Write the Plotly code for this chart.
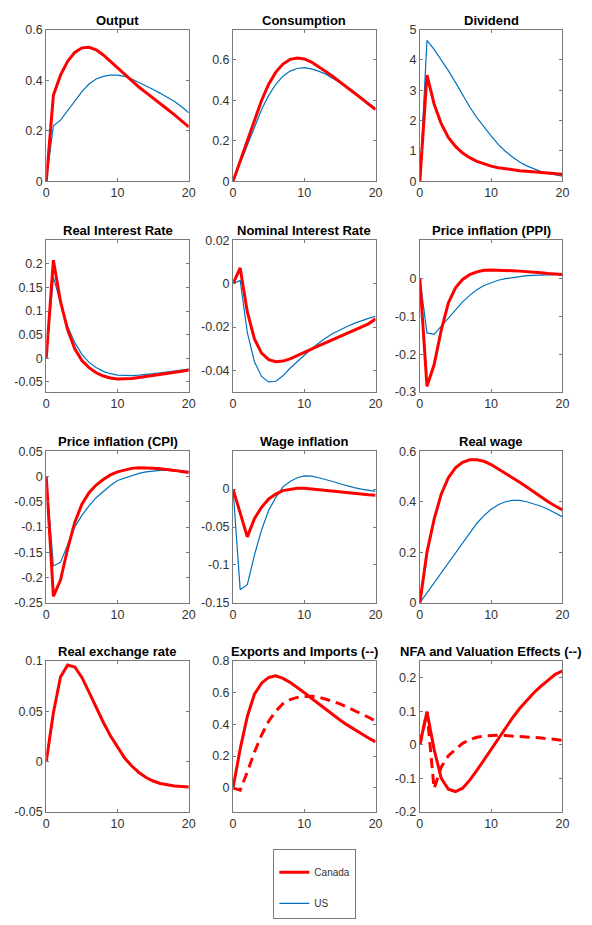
import plotly.graph_objects as go

# Impulse responses over 20 quarters
quarters = list(range(21))

output_ca = [0, 0.34, 0.42, 0.475, 0.51, 0.528, 0.53, 0.52, 0.5, 0.475, 0.45, 0.425,
             0.397, 0.373, 0.351, 0.33, 0.307, 0.285, 0.263, 0.24, 0.215]
output_us = [0, 0.22, 0.242, 0.28, 0.32, 0.355, 0.385, 0.405, 0.415, 0.42, 0.42, 0.415,
             0.405, 0.392, 0.378, 0.363, 0.348, 0.332, 0.316, 0.295, 0.271]

cons_ca = [0, 0.1, 0.205, 0.305, 0.4, 0.48, 0.54, 0.58, 0.603, 0.61, 0.605, 0.59,
           0.568, 0.543, 0.518, 0.492, 0.466, 0.437, 0.41, 0.382, 0.355]
cons_us = [0, 0.09, 0.18, 0.27, 0.355, 0.425, 0.48, 0.52, 0.545, 0.558, 0.562, 0.556,
           0.545, 0.53, 0.51, 0.49, 0.468, 0.443, 0.415, 0.388, 0.36]

div_ca = [0, 3.5, 2.55, 1.9, 1.45, 1.15, 0.93, 0.78, 0.66, 0.57, 0.5, 0.45,
          0.41, 0.38, 0.35, 0.33, 0.31, 0.29, 0.27, 0.25, 0.23]
div_us = [0, 4.65, 4.35, 4.02, 3.65, 3.26, 2.85, 2.45, 2.1, 1.78, 1.5, 1.22,
          0.99, 0.8, 0.64, 0.51, 0.41, 0.32, 0.26, 0.21, 0.17]

rir_ca = [0, 0.208, 0.12, 0.06, 0.02, -0.005, -0.02, -0.031, -0.038, -0.042, -0.044, -0.044,
          -0.043, -0.041, -0.039, -0.037, -0.035, -0.032, -0.03, -0.028, -0.025]
rir_us = [0, 0.172, 0.118, 0.068, 0.033, 0.008, -0.009, -0.02, -0.028, -0.033, -0.036, -0.037,
          -0.037, -0.036, -0.035, -0.033, -0.031, -0.029, -0.027, -0.025, -0.023]

nir_ca = [0, 0.0073, -0.013, -0.0255, -0.032, -0.035, -0.036, -0.0357, -0.0347, -0.0333, -0.0318,
          -0.0302, -0.0287, -0.0272, -0.0257, -0.0243, -0.0228, -0.0214, -0.02, -0.0185, -0.0162]
nir_us = [0, 0.0015, -0.0225, -0.036, -0.0428, -0.0453, -0.045, -0.0425, -0.039, -0.036, -0.033,
          -0.03, -0.0275, -0.025, -0.023, -0.0213, -0.0197, -0.0183, -0.017, -0.016, -0.015]

ppi_ca = [0, -0.285, -0.228, -0.137, -0.065, -0.025, -0.003, 0.01, 0.017, 0.021, 0.022, 0.022,
          0.021, 0.02, 0.019, 0.018, 0.016, 0.015, 0.013, 0.012, 0.01]
ppi_us = [0, -0.144, -0.148, -0.127, -0.105, -0.083, -0.062, -0.045, -0.03, -0.019, -0.011,
          -0.005, -0.001, 0.002, 0.005, 0.007, 0.008, 0.009, 0.01, 0.01, 0.01]

cpi_ca = [0, -0.237, -0.205, -0.143, -0.091, -0.055, -0.032, -0.017, -0.006, 0.003, 0.009, 0.013,
          0.016, 0.017, 0.017, 0.016, 0.015, 0.014, 0.012, 0.01, 0.008]
cpi_us = [0, -0.177, -0.17, -0.133, -0.1, -0.077, -0.058, -0.042, -0.03, -0.018, -0.008, -0.003,
          0.002, 0.006, 0.009, 0.011, 0.012, 0.012, 0.012, 0.011, 0.01]

wage_ca = [0, -0.031, -0.063, -0.039, -0.024, -0.013, -0.0065, -0.002, 0.0, 0.001, 0.001, 0.0,
           -0.001, -0.002, -0.003, -0.004, -0.005, -0.006, -0.007, -0.0075, -0.008]
wage_us = [0, -0.1326, -0.126, -0.087, -0.054, -0.028, -0.011, 0.003, 0.01, 0.015, 0.0174, 0.017,
           0.015, 0.013, 0.01, 0.007, 0.004, 0.002, 0.0, -0.002, -0.003]

rwage_ca = [0, 0.2, 0.33, 0.43, 0.495, 0.534, 0.556, 0.566, 0.566, 0.56, 0.547, 0.53,
            0.513, 0.495, 0.477, 0.458, 0.438, 0.42, 0.4, 0.383, 0.368]
rwage_us = [0, 0.04, 0.08, 0.12, 0.16, 0.2, 0.24, 0.28, 0.315, 0.345, 0.37, 0.388,
            0.4, 0.405, 0.405, 0.4, 0.392, 0.382, 0.37, 0.356, 0.34]

rer_ca = [0, 0.0485, 0.084, 0.096, 0.094, 0.0836, 0.069, 0.0534, 0.039, 0.0256, 0.014, 0.0033,
          -0.0046, -0.011, -0.016, -0.0195, -0.022, -0.0235, -0.0245, -0.025, -0.0255]

exports_ca = [0, 0.245, 0.45, 0.59, 0.66, 0.696, 0.706, 0.69, 0.665, 0.635, 0.6, 0.565,
              0.53, 0.495, 0.46, 0.428, 0.397, 0.368, 0.34, 0.314, 0.29]
imports_ca = [0, -0.015, 0.1, 0.225, 0.333, 0.42, 0.484, 0.53, 0.556, 0.57, 0.575, 0.578,
              0.572, 0.56, 0.545, 0.53, 0.51, 0.49, 0.47, 0.445, 0.42]

nfa_ca = [0, 0.098, -0.014, -0.1, -0.133, -0.14, -0.13, -0.106, -0.077, -0.046, -0.014, 0.019,
          0.05, 0.08, 0.108, 0.133, 0.155, 0.175, 0.193, 0.21, 0.22]
valuation_ca = [0, 0.098, -0.131, -0.067, -0.033, -0.014, 0.004, 0.015, 0.022, 0.026, 0.028, 0.028,
                0.027, 0.026, 0.025, 0.024, 0.022, 0.02, 0.018, 0.016, 0.013]

titles = ["Output", "Consumption", "Dividend",
          "Real Interest Rate", "Nominal Interest Rate", "Price inflation (PPI)",
          "Price inflation (CPI)", "Wage inflation", "Real wage",
          "Real exchange rate", "Exports and Imports (--)", "NFA and Valuation Effects (--)"]

y_ranges = [[0, 0.6], [0, 0.75], [0, 5],
            [-0.072, 0.25], [-0.05, 0.02], [-0.3, 0.1],
            [-0.25, 0.05], [-0.15, 0.05], [0, 0.6],
            [-0.05, 0.1], [-0.15, 0.8], [-0.2, 0.25]]

y_ticks = [[0, 0.2, 0.4, 0.6], [0, 0.2, 0.4, 0.6], [0, 1, 2, 3, 4, 5],
           [-0.05, 0, 0.05, 0.1, 0.15, 0.2], [-0.04, -0.02, 0, 0.02], [-0.3, -0.2, -0.1, 0],
           [-0.25, -0.2, -0.15, -0.1, -0.05, 0, 0.05], [-0.15, -0.1, -0.05, 0], [0, 0.2, 0.4, 0.6],
           [-0.05, 0, 0.05, 0.1], [0, 0.2, 0.4, 0.6, 0.8], [-0.2, -0.1, 0, 0.1, 0.2]]

x_ticks = [0, 10, 20]

# (solid red, blue, dashed red) per panel
panels = [(output_ca, output_us, None), (cons_ca, cons_us, None), (div_ca, div_us, None),
          (rir_ca, rir_us, None), (nir_ca, nir_us, None), (ppi_ca, ppi_us, None),
          (cpi_ca, cpi_us, None), (wage_ca, wage_us, None), (rwage_ca, rwage_us, None),
          (rer_ca, None, None), (exports_ca, None, imports_ca), (nfa_ca, None, valuation_ca)]

W, H = 592, 925
col_px = [(44, 189), (234, 379), (424, 569)]
row_px = [(23, 177), (237, 391), (451, 605), (664, 817)]

RED = "#FF0000"
BLUE = "#0072BD"
AX = "#7a7a7a"
TXT = "#333333"
FONT = "Liberation Sans, Arial, Helvetica, sans-serif"


def tick_label(v):
    return ("%g" % v).replace("\u2212", "-")


fig = go.Figure()
annotations = []

for i, (red, blue, dashed) in enumerate(panels):
    r, c = divmod(i, 3)
    n = i + 1
    xa = "x" if n == 1 else f"x{n}"
    ya = "y" if n == 1 else f"y{n}"
    x0, x1 = col_px[c]
    y0, y1 = row_px[r]
    xdom = [x0 / W, x1 / W]
    ydom = [1 - y1 / H, 1 - y0 / H]

    if blue is not None:
        fig.add_trace(go.Scatter(x=quarters, y=blue, mode="lines", name="US",
                                 line=dict(color=BLUE, width=1.2),
                                 xaxis=xa, yaxis=ya, legendgroup="us",
                                 showlegend=(i == 0), legendrank=2))
    if dashed is not None:
        fig.add_trace(go.Scatter(x=quarters, y=dashed, mode="lines",
                                 line=dict(color=RED, width=3, dash="10px,6px"),
                                 xaxis=xa, yaxis=ya, showlegend=False))
    fig.add_trace(go.Scatter(x=quarters, y=red, mode="lines", name="Canada",
                             line=dict(color=RED, width=3),
                             xaxis=xa, yaxis=ya, legendgroup="ca",
                             showlegend=(i == 0), legendrank=1))

    common = dict(showline=True, linecolor=AX, linewidth=1, mirror="ticks",
                  ticks="inside", ticklen=3, tickcolor=AX, showgrid=False,
                  zeroline=False, tickfont=dict(family=FONT, size=12.5, color=TXT))
    fig.layout[f"xaxis{'' if n == 1 else n}"] = dict(
        domain=xdom, anchor=ya, range=[0, 20], tickvals=x_ticks,
        ticktext=[tick_label(v) for v in x_ticks], **common)
    fig.layout[f"yaxis{'' if n == 1 else n}"] = dict(
        domain=ydom, anchor=xa, range=y_ranges[i], tickvals=y_ticks[i],
        ticktext=[tick_label(v) for v in y_ticks[i]], **common)

    annotations.append(dict(text=f"<b>{titles[i]}</b>", xref="paper", yref="paper",
                            x=(xdom[0] + xdom[1]) / 2, y=ydom[1], xanchor="center",
                            yanchor="bottom", yshift=0, showarrow=False,
                            font=dict(family=FONT, size=13, color="#000000")))

fig.update_layout(
    width=W, height=H,
    margin=dict(l=0, r=0, t=0, b=0),
    paper_bgcolor="white", plot_bgcolor="white",
    annotations=annotations,
    showlegend=True,
    legend=dict(x=275 / W, y=1 - 855 / H, xanchor="left", yanchor="top",
                bgcolor="white", bordercolor=AX, borderwidth=1,
                font=dict(family=FONT, size=10, color=TXT),
                title=dict(text=" ", font=dict(size=6)),
                tracegroupgap=12, traceorder="grouped"),
)

fig.write_html("out.html")
